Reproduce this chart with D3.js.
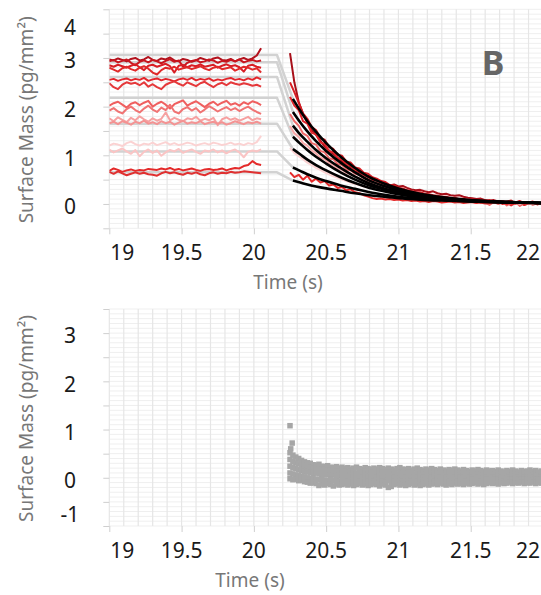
<!DOCTYPE html>
<html>
<head>
<meta charset="utf-8">
<script src="https://cdn.jsdelivr.net/npm/d3@7"></script>
<style>
  body { margin: 0; background: #fff; }
  svg { display: block; font-family: "Noto Sans", sans-serif; }
</style>
</head>
<body>
<div id="main"></div>
<script>
// ---- data ----
var xTicks = [19, 19.5, 20, 20.5, 21, 21.5, 22];
var xTickLabels = ['19', '19.5', '20', '20.5', '21', '21.5', '22'];
var topYLabels = [0, 1, 2, 3, 4];
var bottomYLabels = [-1, 0, 1, 2, 3];

// baseline traces before the pulse (sampled from 19.00 every 0.03 s)
var baseStart = 19.0, baseStep = 0.03;
var baseColors = ['#b3121d', '#c8161e', '#d81e24', '#e02a2a', '#e3262b', '#e5393b', '#ef5f5f',
                  '#f07373', '#f6a1a1', '#f49393', '#fbd2d2', '#fac4c4', '#e42a2a', '#e03030'];
var baseLines = [
  [2.97,2.95,2.99,2.96,2.93,2.98,3.00,2.95,2.97,3.02,2.96,2.94,2.99,2.97,3.01,2.95,2.93,2.98,2.96,2.92,2.95,3.00,2.97,2.94,2.99,3.01,2.96,2.95,2.98,2.93,2.97,3.00,2.96,2.99,3.05,3.20],
  [2.93,2.96,2.91,2.94,2.97,2.90,2.85,2.92,2.95,2.91,2.96,2.93,2.89,2.94,2.97,2.92,2.95,2.82,2.90,2.94,2.96,2.91,2.93,2.97,2.95,2.90,2.94,2.92,2.96,2.93,2.97,2.91,2.94,2.96,2.93,2.95],
  [2.85,2.82,2.86,2.83,2.80,2.84,2.87,2.81,2.75,2.84,2.86,2.82,2.85,2.88,2.83,2.70,2.84,2.86,2.81,2.85,2.83,2.87,2.82,2.84,2.86,2.80,2.84,2.87,2.83,2.85,2.81,2.72,2.84,2.86,2.82,2.80],
  [2.80,2.76,2.72,2.79,2.82,2.77,2.74,2.80,2.83,2.78,2.70,2.66,2.75,2.80,2.78,2.82,2.76,2.79,2.81,2.77,2.80,2.83,2.78,2.75,2.80,2.82,2.77,2.79,2.81,2.74,2.78,2.82,2.80,2.76,2.79,2.70],
  [2.55,2.57,2.53,2.56,2.58,2.54,2.57,2.55,2.59,2.53,2.56,2.58,2.54,2.57,2.55,2.52,2.56,2.58,2.55,2.59,2.54,2.57,2.55,2.58,2.53,2.56,2.54,2.57,2.59,2.55,2.57,2.54,2.58,2.55,2.60,2.56],
  [2.48,2.40,2.36,2.45,2.50,2.47,2.49,2.44,2.50,2.41,2.46,2.40,2.36,2.45,2.49,2.52,2.47,2.43,2.50,2.46,2.42,2.48,2.51,2.45,2.40,2.46,2.49,2.44,2.50,2.47,2.45,2.48,2.46,2.43,2.45,2.41],
  [2.02,2.07,2.10,2.04,1.98,2.06,2.09,2.03,2.08,2.12,2.00,2.06,2.10,2.04,1.96,2.05,2.09,2.13,2.02,2.07,2.11,2.05,1.99,2.06,2.10,2.03,2.08,2.12,2.04,2.07,2.02,2.09,2.05,2.11,2.08,2.03],
  [1.92,1.97,1.90,1.86,1.95,2.00,1.93,1.88,1.96,2.02,1.94,1.89,1.98,1.93,2.04,1.90,1.86,1.95,1.99,1.92,1.97,1.88,1.94,2.01,1.96,1.90,1.95,1.99,1.93,1.97,1.91,1.96,2.00,1.94,1.89,1.85],
  [1.76,1.70,1.78,1.73,1.68,1.77,1.72,1.80,1.74,1.69,1.76,1.71,1.75,1.88,1.72,1.77,1.73,1.70,1.76,1.74,1.79,1.71,1.75,1.72,1.77,1.62,1.74,1.78,1.73,1.76,1.71,1.75,1.79,1.72,1.76,1.74],
  [1.66,1.69,1.64,1.70,1.67,1.63,1.69,1.66,1.71,1.65,1.68,1.64,1.70,1.66,1.69,1.63,1.67,1.71,1.65,1.68,1.66,1.70,1.64,1.67,1.69,1.65,1.68,1.63,1.66,1.70,1.67,1.64,1.68,1.66,1.69,1.65],
  [1.20,1.24,1.22,1.19,1.25,1.28,1.23,1.20,1.24,1.22,1.26,1.21,1.24,1.27,1.22,1.25,1.21,1.23,1.26,1.24,1.20,1.23,1.25,1.22,1.26,1.24,1.21,1.23,1.26,1.22,1.24,1.21,1.25,1.23,1.27,1.40],
  [1.12,1.06,1.10,1.14,1.08,1.03,1.11,0.98,1.07,1.12,1.05,1.10,0.99,1.06,1.11,1.08,1.13,1.05,1.09,1.12,1.07,1.03,1.10,1.08,1.12,1.06,1.10,1.04,1.09,1.12,1.06,0.96,1.07,1.10,1.08,1.12],
  [0.68,0.73,0.70,0.66,0.69,0.71,0.68,0.70,0.69,0.72,0.71,0.70,0.73,0.71,0.74,0.70,0.72,0.69,0.71,0.73,0.70,0.68,0.71,0.72,0.70,0.71,0.73,0.69,0.72,0.74,0.73,0.78,0.80,0.88,0.82,0.80],
  [0.66,0.62,0.67,0.63,0.59,0.62,0.65,0.62,0.64,0.61,0.60,0.58,0.63,0.66,0.63,0.65,0.62,0.60,0.64,0.62,0.65,0.61,0.59,0.63,0.65,0.62,0.64,0.63,0.66,0.64,0.65,0.67,0.66,0.65,0.64,0.63]
];

// plateau fits (grey) and where they hand over to the decay fits
var plateauLevels = [3.06, 2.91, 2.61, 2.18, 1.65, 1.08, 0.65];
var plateauEnd = 20.16;

// exponential fits of the wash-out (black)
var fitTimes = [20.27, 20.32, 20.37, 20.43, 20.5, 20.6, 20.7, 20.8, 20.9, 21.0, 21.15, 21.3, 21.5, 21.75, 22.0];
var fitLines = [
  [2.16, 1.92, 1.70, 1.48, 1.25, 0.97, 0.74, 0.55, 0.42, 0.32, 0.21, 0.14, 0.08, 0.04, 0.02],
  [1.89, 1.68, 1.49, 1.29, 1.09, 0.85, 0.65, 0.48, 0.37, 0.28, 0.19, 0.12, 0.07, 0.04, 0.02],
  [1.61, 1.43, 1.28, 1.11, 0.94, 0.74, 0.56, 0.42, 0.32, 0.25, 0.17, 0.11, 0.07, 0.04, 0.02],
  [1.38, 1.24, 1.11, 0.97, 0.83, 0.65, 0.50, 0.38, 0.30, 0.23, 0.16, 0.11, 0.06, 0.04, 0.02],
  [1.13, 1.02, 0.91, 0.80, 0.69, 0.55, 0.43, 0.33, 0.26, 0.20, 0.14, 0.10, 0.06, 0.03, 0.02],
  [0.75, 0.68, 0.61, 0.54, 0.47, 0.38, 0.31, 0.24, 0.19, 0.15, 0.11, 0.08, 0.05, 0.03, 0.02],
  [0.48, 0.44, 0.40, 0.36, 0.32, 0.27, 0.22, 0.18, 0.15, 0.12, 0.09, 0.07, 0.05, 0.03, 0.02]
];

// measured wash-out traces (sampled from 20.25 every 0.03 s)
var decayStart = 20.25, decayStep = 0.03;
var decayColors = ['#a8101a', '#d81e24', '#e3262b', '#ef6a6a', '#f6a8a8', '#fbd2d2', '#e42a2a'];
var decayLines = [
  [3.10,2.50,2.10,1.85,1.68,1.52,1.42,1.30,1.18,1.10,1.02,0.95,0.87,0.82,0.76,0.70,0.64,0.60,0.55,0.50,0.48,0.45,0.41,0.38,0.40,0.36,0.37,0.33,0.30,0.28,0.29,0.26,0.24,0.26,0.22,0.20,0.21,0.18,0.17,0.18,0.15,0.13,0.12,0.10,0.11,0.08,0.07,0.08,0.05,0.06,0.04,0.05,0.03,0.06,0.02,0.04,0.01,0.03,0.02],
  [2.50,2.30,2.08,1.86,1.75,1.58,1.52,1.35,1.32,1.17,1.13,1.01,0.99,0.87,0.85,0.75,0.73,0.64,0.62,0.55,0.52,0.47,0.45,0.39,0.38,0.33,0.32,0.28,0.27,0.24,0.24,0.21,0.20,0.18,0.17,0.15,0.15,0.12,0.13,0.10,0.11,0.08,0.10,0.06,0.09,0.05,0.08,0.03,0.06,0.02,0.05,0.07,0.01,0.04,-0.02,0.03,0.05,0.00,0.03],
  [2.20,2.02,1.93,1.70,1.65,1.46,1.43,1.26,1.24,1.08,1.07,0.94,0.92,0.81,0.79,0.69,0.68,0.59,0.58,0.50,0.49,0.43,0.42,0.36,0.35,0.31,0.30,0.26,0.25,0.22,0.22,0.19,0.18,0.16,0.15,0.13,0.13,0.11,0.11,0.09,0.07,0.10,0.05,0.08,0.03,0.06,0.01,0.04,0.06,0.00,0.03,-0.03,0.02,0.05,-0.02,0.01,0.04,-0.01,0.02],
  [1.85,1.70,1.61,1.45,1.40,1.25,1.22,1.09,1.06,0.94,0.92,0.82,0.80,0.71,0.69,0.62,0.60,0.53,0.51,0.45,0.44,0.39,0.38,0.33,0.33,0.28,0.28,0.24,0.24,0.20,0.21,0.17,0.17,0.14,0.15,0.12,0.12,0.10,0.10,0.08,0.06,0.09,0.04,0.02,0.07,0.03,-0.02,0.04,0.01,0.05,-0.03,0.02,0.04,-0.04,0.01,0.03,-0.02,0.02,0.00],
  [1.60,1.45,1.38,1.25,1.20,1.10,1.04,0.95,0.92,0.84,0.80,0.73,0.70,0.64,0.61,0.56,0.53,0.49,0.46,0.42,0.40,0.37,0.34,0.32,0.30,0.28,0.26,0.24,0.22,0.21,0.19,0.18,0.16,0.15,0.14,0.13,0.12,0.11,0.10,0.09,0.08,0.07,0.08,0.06,0.05,0.06,0.04,0.05,0.03,0.04,0.02,0.03,0.02,0.01,0.03,0.02,0.01,0.02,0.00],
  [1.15,1.05,0.98,0.92,0.85,0.80,0.74,0.70,0.65,0.61,0.57,0.54,0.50,0.47,0.44,0.41,0.39,0.36,0.34,0.32,0.30,0.28,0.26,0.24,0.22,0.21,0.19,0.18,0.17,0.15,0.14,0.13,0.12,0.11,0.10,0.09,0.10,0.08,0.07,0.06,0.07,0.05,0.06,0.04,0.05,0.03,0.04,0.03,0.02,0.03,0.01,0.02,0.03,0.01,0.02,0.00,0.01,0.02,0.01],
  [0.65,0.55,0.60,0.50,0.58,0.46,0.52,0.44,0.47,0.38,0.40,0.33,0.35,0.28,0.30,0.24,0.22,0.18,0.15,0.12,0.10,0.11,0.09,0.10,0.08,0.09,0.07,0.08,0.06,0.07,0.05,0.06,0.04,0.06,0.05,0.03,0.04,0.05,0.03,0.04,0.02,0.03,0.04,0.02,0.03,0.01,0.02,0.03,0.01,0.02,0.00,0.02,0.01,0.03,0.00,0.01,0.02,0.00,0.01]
];

// residuals, lower panel (sampled from 20.25 every 0.02 s)
var residStart = 20.25, residStep = 0.02;
var residLines = [
  [0.52,0.47,0.43,0.40,0.36,0.33,0.31,0.30,0.27,0.26,0.28,0.24,0.23,0.25,0.22,0.21,0.23,0.20,0.22,0.19,0.21,0.18,0.20,0.22,0.19,0.18,0.21,0.19,0.17,0.20,0.18,0.21,0.19,0.17,0.20,0.18,0.16,0.19,0.21,0.18,0.17,0.19,0.16,0.18,0.20,0.17,0.15,0.18,0.16,0.19,0.17,0.15,0.18,0.16,0.14,0.17,0.15,0.18,0.16,0.14,0.17,0.15,0.13,0.16,0.14,0.17,0.15,0.13,0.16,0.14,0.15,0.13,0.16,0.14,0.12,0.15,0.13,0.16,0.14,0.12,0.15,0.13,0.14,0.16,0.13,0.15,0.12,0.14],
  [0.38,0.34,0.31,0.29,0.26,0.24,0.22,0.21,0.19,0.20,0.17,0.18,0.15,0.16,0.14,0.15,0.13,0.14,0.12,0.13,0.11,0.13,0.12,0.10,0.12,0.11,0.13,0.10,0.11,0.12,0.10,0.12,0.11,0.09,0.11,0.12,0.10,0.08,0.11,0.10,0.09,0.11,0.10,0.08,0.10,0.09,0.11,0.08,0.10,0.09,0.08,0.10,0.09,0.07,0.09,0.10,0.08,0.07,0.09,0.08,0.09,0.07,0.08,0.06,0.09,0.07,0.08,0.06,0.08,0.07,0.06,0.08,0.07,0.05,0.07,0.08,0.06,0.07,0.05,0.07,0.06,0.08,0.05,0.07,0.06,0.05,0.07,0.06],
  [0.24,0.21,0.19,0.17,0.15,0.13,0.12,0.11,0.09,0.10,0.08,0.07,0.06,0.07,0.05,0.06,0.04,0.05,0.03,0.05,0.03,0.04,0.02,0.04,0.03,0.01,0.03,0.02,0.04,0.02,0.01,0.03,0.02,0.00,0.02,0.03,0.01,0.02,0.00,0.02,0.01,0.03,0.00,0.02,0.01,0.03,0.01,0.00,0.02,0.01,0.02,0.00,0.01,0.03,0.01,0.00,0.02,0.01,0.03,0.01,0.00,0.02,0.01,0.00,0.02,0.01,0.03,0.00,0.01,0.02,0.01,0.00,0.02,0.01,0.03,0.00,0.01,0.02,0.00,0.01,0.02,0.01,0.00,0.02,0.01,0.03,0.00,0.01],
  [0.10,0.08,0.06,0.05,0.03,0.02,0.00,-0.02,-0.01,-0.03,-0.04,-0.03,-0.05,-0.06,-0.04,-0.06,-0.05,-0.07,-0.06,-0.05,-0.07,-0.06,-0.08,-0.05,-0.07,-0.06,-0.08,-0.07,-0.05,-0.07,-0.06,-0.08,-0.07,-0.09,-0.06,-0.08,-0.07,-0.06,-0.08,-0.07,-0.06,-0.08,-0.07,-0.05,-0.07,-0.06,-0.08,-0.06,-0.07,-0.05,-0.07,-0.06,-0.08,-0.06,-0.05,-0.07,-0.06,-0.05,-0.07,-0.06,-0.05,-0.07,-0.06,-0.04,-0.06,-0.05,-0.07,-0.05,-0.04,-0.06,-0.05,-0.04,-0.06,-0.05,-0.07,-0.05,-0.04,-0.06,-0.05,-0.04,-0.06,-0.04,-0.05,-0.03,-0.05,-0.04,-0.06,-0.04],
  [-0.02,-0.04,-0.03,-0.06,-0.05,-0.08,-0.09,-0.11,-0.10,-0.12,-0.16,-0.13,-0.15,-0.12,-0.14,-0.17,-0.13,-0.15,-0.14,-0.12,-0.15,-0.13,-0.16,-0.14,-0.12,-0.15,-0.13,-0.16,-0.14,-0.12,-0.14,-0.17,-0.13,-0.15,-0.20,-0.18,-0.14,-0.12,-0.15,-0.13,-0.16,-0.14,-0.12,-0.15,-0.13,-0.16,-0.14,-0.12,-0.15,-0.13,-0.12,-0.14,-0.11,-0.13,-0.15,-0.12,-0.14,-0.11,-0.13,-0.12,-0.14,-0.11,-0.13,-0.12,-0.10,-0.13,-0.11,-0.14,-0.12,-0.10,-0.12,-0.11,-0.13,-0.10,-0.12,-0.11,-0.09,-0.12,-0.10,-0.11,-0.09,-0.12,-0.10,-0.11,-0.09,-0.12,-0.10,-0.11]
];
var residOutliers = [[20.25, 1.08], [20.265, 0.72], [20.255, 0.6]];

// ---- drawing ----
var W = 541, H = 595;
var svg = d3.select('#main').append('svg').attr('width', W).attr('height', H);

var x = d3.scaleLinear().domain([19, 22]).range([109.3, 543]);
var yTop = d3.scaleLinear().domain([-0.5, 4]).range([228.3, 9.3]);
var yBot = d3.scaleLinear().domain([-1, 3.5]).range([526, 309]);

function panel(y, yLabels, id, labelBase, titleX, titleBase) {
    var dom = y.domain(), rng = y.range();
    var g = svg.append('g');

    // grid
    g.selectAll('.hg').data(d3.range(dom[0], dom[1] + 0.001, 0.1)).enter().append('line')
        .attr('x1', x(19)).attr('x2', W).attr('y1', function(d) { return y(d); }).attr('y2', function(d) { return y(d); })
        .attr('stroke', '#efefef').attr('stroke-width', 1);
    g.selectAll('.vg').data(d3.range(19, 22.001, 0.1)).enter().append('line')
        .attr('x1', function(d) { return x(d); }).attr('x2', function(d) { return x(d); })
        .attr('y1', rng[1]).attr('y2', rng[0])
        .attr('stroke', '#e6e6e6').attr('stroke-width', 1.2);

    // tick marks
    var ya = g.append('g').attr('transform', 'translate(' + x(19) + ',0)')
        .call(d3.axisLeft(y).tickValues(d3.range(dom[0], dom[1] + 0.001, 0.5)).tickSize(6).tickFormat(''));
    var xa = g.append('g').attr('transform', 'translate(0,' + rng[0] + ')')
        .call(d3.axisBottom(x).tickValues(xTicks).tickSize(6).tickFormat(''));
    [ya, xa].forEach(function(a) {
        a.select('.domain').remove();
        a.selectAll('line').attr('stroke', '#cfcfcf');
    });

    // tick labels (first and last kept inside the window)
    var last = xTicks.length - 1;
    g.selectAll('.yl').data(yLabels).enter().append('text')
        .attr('x', 70).attr('text-anchor', 'middle').attr('dy', '0.35em')
        .attr('y', function(d) { return Math.max(rng[1] + 18, Math.min(rng[0] - 11, y(d) + 3)); })
        .attr('font-size', 21).attr('fill', '#1a1a1a')
        .text(function(d) { return d; });
    g.selectAll('.xl').data(xTicks).enter().append('text')
        .attr('x', function(d, i) { return i === 0 ? x(d) + 1 : (i === last ? W - 1 : x(d)); })
        .attr('text-anchor', function(d, i) { return i === 0 ? 'start' : (i === last ? 'end' : 'middle'); })
        .attr('y', labelBase).attr('font-size', 21).attr('fill', '#1a1a1a')
        .text(function(d, i) { return xTickLabels[i]; });

    // axis titles
    g.append('text').attr('x', titleX).attr('y', titleBase).attr('text-anchor', 'middle')
        .attr('font-size', 19).attr('fill', '#777').text('Time (s)');
    g.append('text').attr('transform', 'translate(33,' + ((rng[0] + rng[1]) / 2 + 1) + ') rotate(-90)')
        .attr('text-anchor', 'middle').attr('font-size', 19).attr('fill', '#777')
        .text('Surface Mass (pg/mm²)');

    svg.append('clipPath').attr('id', id).append('rect')
        .attr('x', x(19)).attr('y', rng[1]).attr('width', W - x(19)).attr('height', rng[0] - rng[1]);
    return svg.append('g').attr('clip-path', 'url(#' + id + ')');
}

// top panel
var topG = panel(yTop, topYLabels, 'clipTop', 260, 288, 289);

var line = d3.line().x(function(d) { return x(d[0]); }).y(function(d) { return yTop(d[1]); });
var smooth = d3.line().curve(d3.curveMonotoneX).x(function(d) { return x(d[0]); }).y(function(d) { return yTop(d[1]); });

topG.selectAll('.plateau').data(plateauLevels).enter().append('path')
    .attr('d', function(d, i) { return line([[19, d], [plateauEnd, d], [fitTimes[0], fitLines[i][0]]]); })
    .attr('fill', 'none').attr('stroke', '#d2d2d2').attr('stroke-width', 2.5).attr('stroke-linejoin', 'round');

topG.selectAll('.base').data(baseLines).enter().append('path')
    .attr('d', function(vals) { return line(vals.map(function(v, i) { return [baseStart + i * baseStep, v]; })); })
    .attr('fill', 'none').attr('stroke', function(d, i) { return baseColors[i]; })
    .attr('stroke-width', 2).attr('stroke-linejoin', 'round');

topG.selectAll('.decay').data(decayLines).enter().append('path')
    .attr('d', function(vals) { return line(vals.map(function(v, i) { return [decayStart + i * decayStep, v]; })); })
    .attr('fill', 'none').attr('stroke', function(d, i) { return decayColors[i]; })
    .attr('stroke-width', 2).attr('stroke-linejoin', 'round');

topG.selectAll('.fit').data(fitLines).enter().append('path')
    .attr('d', function(vals) { return smooth(vals.map(function(v, i) { return [fitTimes[i], v]; })); })
    .attr('fill', 'none').attr('stroke', '#000').attr('stroke-width', 2.6);

svg.append('text').attr('x', 493).attr('y', 75).attr('text-anchor', 'middle')
    .attr('font-size', 34).attr('font-weight', 'bold').attr('fill', '#666').text('B');

// bottom panel
var botG = panel(yBot, bottomYLabels, 'clipBot', 558, 250, 587);
var pts = [];
residLines.forEach(function(vals) {
    vals.forEach(function(v, i) { pts.push([residStart + i * residStep, v]); });
});
pts = pts.concat(residOutliers);
var s = 5.5;
botG.selectAll('.res').data(pts).enter().append('rect')
    .attr('x', function(d) { return x(d[0]) - s / 2; }).attr('y', function(d) { return yBot(d[1]) - s / 2; })
    .attr('width', s).attr('height', s).attr('fill', '#a6a6a6');
</script>
</body>
</html>
